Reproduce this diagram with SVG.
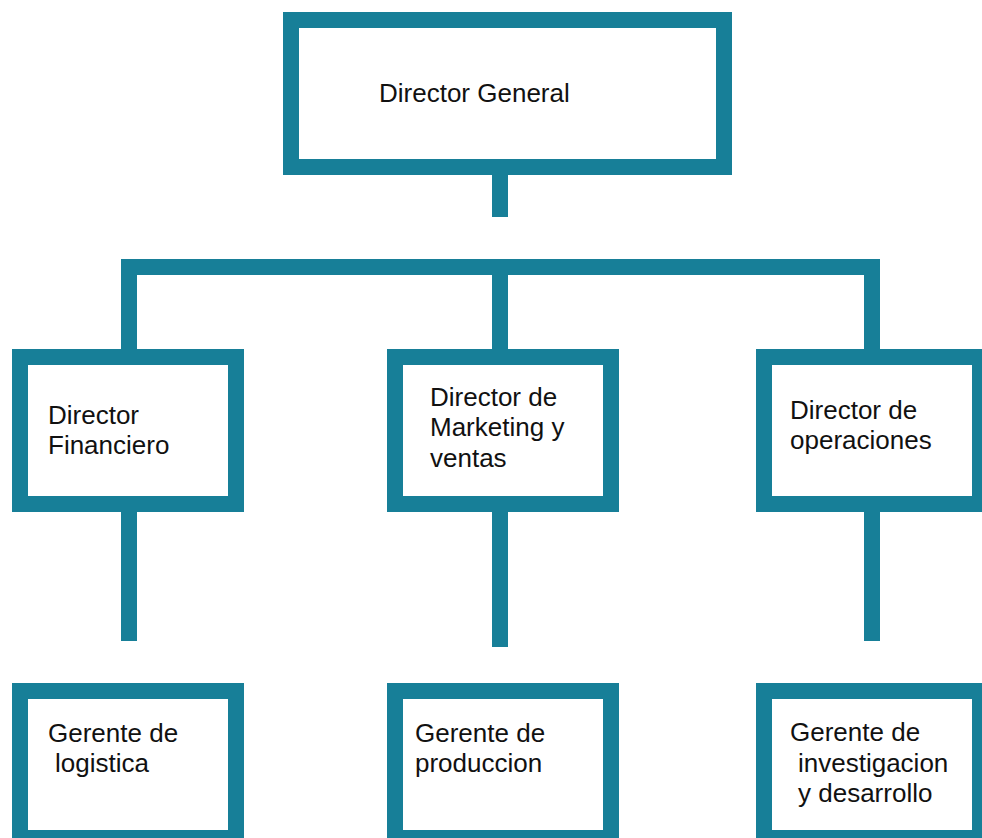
<svg xmlns="http://www.w3.org/2000/svg" width="982" height="838" viewBox="0 0 982 838">
<style>
.box{fill:#ffffff;stroke:#177f98;stroke-width:16}
.ln{fill:none;stroke:#177f98;stroke-width:16;stroke-linecap:butt;stroke-linejoin:miter}
text{font-family:"Liberation Sans",Arial,sans-serif;font-size:26px;fill:#111111}
</style>
<rect width="982" height="838" fill="#ffffff"/>
<g id="connectors">
<line class="ln" x1="500" y1="175" x2="500" y2="217"/>
<polyline class="ln" points="129,349 129,267 872,267 872,349"/>
<line class="ln" x1="500" y1="267" x2="500" y2="349"/>
<line class="ln" x1="129" y1="512" x2="129" y2="641"/>
<line class="ln" x1="500" y1="512" x2="500" y2="647"/>
<line class="ln" x1="872" y1="512" x2="872" y2="641"/>
</g>
<g id="director-general">
<rect class="box" x="291" y="20" width="433" height="147"/>
<text x="379" y="102" font-size="26.8">Director General</text>
</g>
<g id="director-financiero">
<rect class="box" x="20" y="357" width="216" height="147"/>
<text x="48" y="424">Director</text>
<text x="48" y="454">Financiero</text>
</g>
<g id="director-marketing">
<rect class="box" x="395" y="357" width="216" height="147"/>
<text x="430" y="406">Director de</text>
<text x="430" y="436">Marketing y</text>
<text x="430" y="467">ventas</text>
</g>
<g id="director-operaciones">
<rect class="box" x="764" y="357" width="216" height="147"/>
<text x="790" y="419">Director de</text>
<text x="790" y="449">operaciones</text>
</g>
<g id="gerente-logistica">
<rect class="box" x="20" y="691" width="216" height="147"/>
<text x="48" y="742">Gerente de</text>
<text x="55" y="772">logistica</text>
</g>
<g id="gerente-produccion">
<rect class="box" x="395" y="691" width="216" height="147"/>
<text x="415" y="742">Gerente de</text>
<text x="415" y="772">produccion</text>
</g>
<g id="gerente-investigacion">
<rect class="box" x="764" y="691" width="216" height="147"/>
<text x="790" y="741">Gerente de</text>
<text x="798" y="772">investigacion</text>
<text x="798" y="802">y desarrollo</text>
</g>
</svg>
